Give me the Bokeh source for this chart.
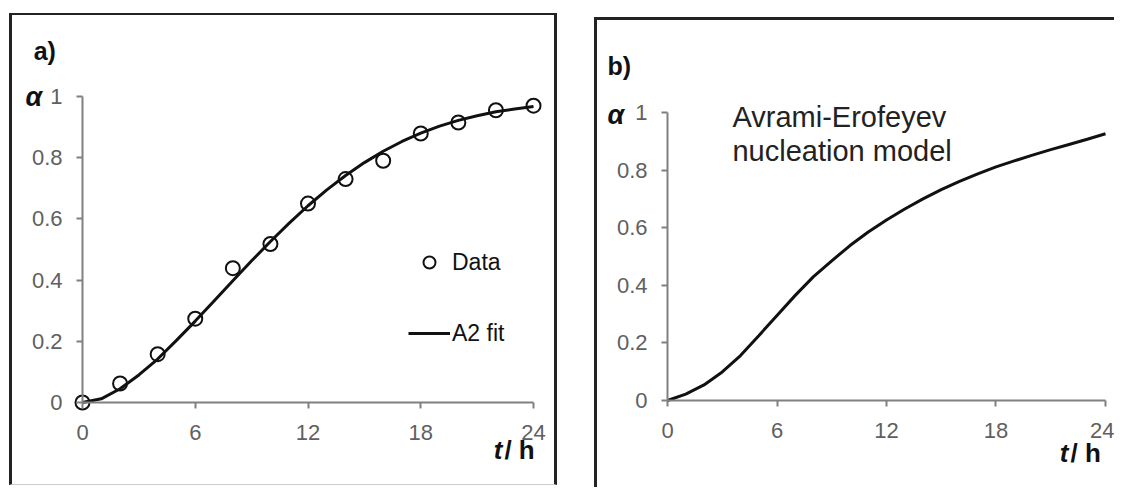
from bokeh.plotting import figure
from bokeh.layouts import row, column
from bokeh.models import Spacer, Label, Legend, LegendItem, FixedTicker, Range1d, CustomJSTickFormatter
from bokeh.embed import file_html
from bokeh.resources import INLINE

# ---- data ----
t_data = [0, 2, 4, 6, 8, 10, 12, 14, 16, 18, 20, 22, 24]
alpha_data = [0.0, 0.062, 0.158, 0.274, 0.439, 0.518, 0.65, 0.73, 0.79, 0.879, 0.915, 0.955, 0.97]

t_fit = list(range(25))
alpha_fit = [0.0, 0.012, 0.045, 0.09, 0.142, 0.203, 0.266, 0.332, 0.398, 0.463, 0.526, 0.586,
             0.643, 0.695, 0.742, 0.784, 0.821, 0.853, 0.880, 0.903, 0.922, 0.937, 0.950, 0.959, 0.967]

t_model = list(range(25))
alpha_model = [0.0, 0.022, 0.054, 0.099, 0.156, 0.225, 0.295, 0.365, 0.430, 0.485, 0.538, 0.585,
               0.627, 0.665, 0.700, 0.732, 0.761, 0.787, 0.811, 0.832, 0.852, 0.871, 0.889, 0.907, 0.926]

x_ticks = [0, 6, 12, 18, 24]
y_ticks = [0, 0.2, 0.4, 0.6, 0.8, 1.0]

FONT = "Liberation Sans"
TICK_COLOR = "#606060"
AXIS_COLOR = "#808080"
INK = "#111111"


def make_panel(width, height, xr, yr, border_styles):
    p = figure(width=width, height=height, x_range=Range1d(*xr), y_range=Range1d(*yr),
               output_backend="svg", toolbar_location=None,
               min_border_left=0, min_border_right=0, min_border_top=0, min_border_bottom=0)
    p.grid.visible = False
    p.outline_line_color = None
    p.background_fill_color = "white"
    p.border_fill_color = "white"
    for ax in (p.xaxis[0], p.yaxis[0]):
        ax.axis_line_color = AXIS_COLOR
        ax.axis_line_width = 2
        ax.major_tick_line_color = AXIS_COLOR
        ax.major_tick_line_width = 2
        ax.major_tick_in = 0
        ax.major_tick_out = 6
        ax.minor_tick_line_color = None
        ax.major_label_text_font = FONT
        ax.major_label_text_font_size = "22px"
        ax.major_label_text_color = TICK_COLOR
        ax.fixed_location = 0
    p.xaxis[0].ticker = FixedTicker(ticks=x_ticks)
    p.yaxis[0].ticker = FixedTicker(ticks=y_ticks)
    p.xaxis[0].bounds = (0, 24)
    p.yaxis[0].bounds = (0, 1)
    p.xaxis[0].major_label_standoff = 17
    p.yaxis[0].major_label_standoff = 14
    p.yaxis[0].formatter = CustomJSTickFormatter(code="return String(Math.round(tick*10)/10);")
    p.styles = border_styles
    return p


def add_label(p, x, y, text, size, style="normal", align="left", baseline="middle", color=INK):
    p.add_layout(Label(x=x, y=y, text=text, text_font=FONT, text_font_size=size,
                       text_font_style=style, text_align=align, text_baseline=baseline,
                       text_color=color))


# ---- panel a ----
pa = make_panel(548, 472, (-3.725, 25.436), (-0.2778, 1.2647),
                {"border-left": "3px solid #222", "border-top": "2px solid #222",
                 "border-right": "3px solid #222", "border-bottom": "1px solid #ccc"})
fit_r = pa.line(t_fit, alpha_fit, line_color=INK, line_width=3)
dat_r = pa.scatter(t_data, alpha_data, marker="circle", size=14, fill_color=None,
                   line_color=INK, line_width=2)
legend = Legend(items=[LegendItem(label="Data", renderers=[dat_r]),
                       LegendItem(label="A2 fit", renderers=[fit_r])],
                location=(396, 139), background_fill_alpha=0, border_line_alpha=0,
                label_text_font=FONT, label_text_font_size="23px", label_text_color=INK,
                glyph_width=42, glyph_height=30, label_height=30, spacing=41,
                padding=0, margin=0, label_standoff=2)
pa.add_layout(legend)
add_label(pa, -2.6, 1.15, "a)", "25px", "bold")
add_label(pa, -3.03, 0.997, "α", "27px", "bold italic")
add_label(pa, 22.35, -0.154, "t", "26px", "bold italic", align="right")
add_label(pa, 22.45, -0.154, "/ h", "26px", "bold")

# ---- panel b ----
pb = make_panel(520, 470, (-3.836, 24.658), (-0.3125, 1.3194),
                {"border-left": "3px solid #222", "border-top": "3px solid #222"})
pb.line(t_model, alpha_model, line_color=INK, line_width=3)
add_label(pb, -3.29, 1.163, "b)", "25px", "bold")
add_label(pb, -3.29, 0.99, "α", "27px", "bold italic")
add_label(pb, 3.56, 0.986, "Avrami-Erofeyev", "29px", color="#222222")
add_label(pb, 3.56, 0.865, "nucleation model", "29px", color="#222222")
add_label(pb, 21.97, -0.184, "t", "26px", "bold italic", align="right")
add_label(pb, 22.08, -0.184, "/ h", "26px", "bold")

layout = row(Spacer(width=9), column(Spacer(height=13), pa), Spacer(width=37),
             column(Spacer(height=17), pb))

open("out.html", "w").write(file_html(layout, INLINE))
